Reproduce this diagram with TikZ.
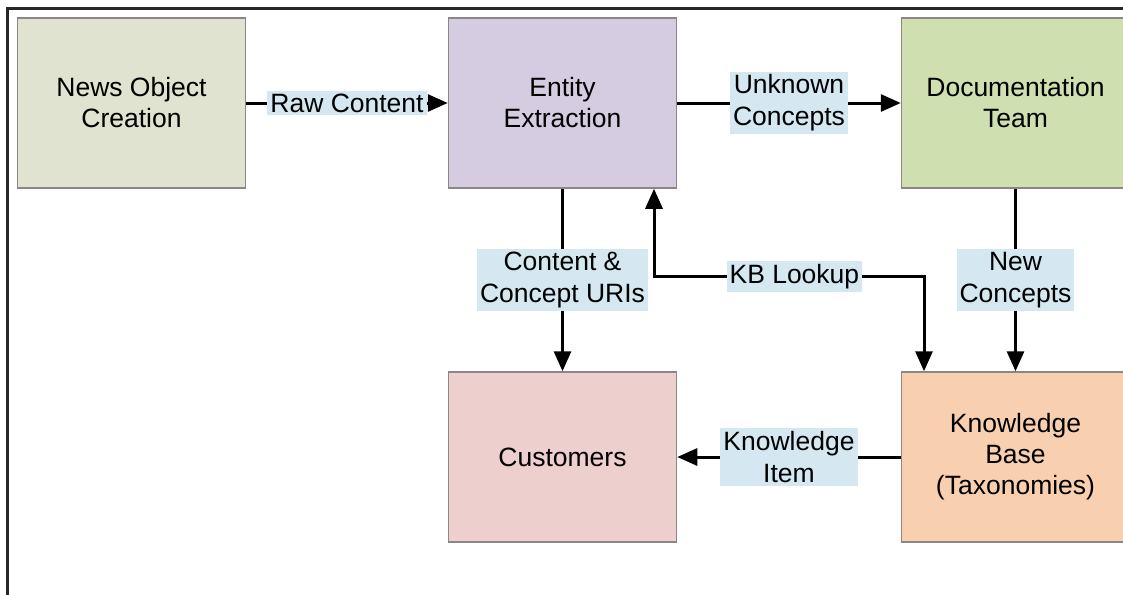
\documentclass[tikz,border=0pt]{standalone}
\usepackage{fontspec}
\setmainfont{Liberation Sans}
\usepackage{tikz}
\usetikzlibrary{arrows.meta}

\definecolor{newsfill}{HTML}{DFE3CF}
\definecolor{entityfill}{HTML}{D6CCE1}
\definecolor{docufill}{HTML}{CFDFAF}
\definecolor{custfill}{HTML}{EDCFCD}
\definecolor{kbfill}{HTML}{F8D0B0}
\definecolor{tagfill}{HTML}{D5E8F1}
\definecolor{boxline}{HTML}{8E8686}

\begin{document}
\begin{tikzpicture}[x=1pt, y=-1pt,
    block/.style={draw=boxline, line width=1.5pt, minimum width=228pt, minimum height=170pt,
                  align=center, font=\fontsize{26.5}{31}\selectfont},
    tag/.style={fill=tagfill, align=center, inner xsep=3pt, inner ysep=3pt,
                font=\fontsize{26.5}{32}\selectfont},
    flow/.style={line width=3pt, -{Triangle[length=20pt,width=17pt]}}]
        \useasboundingbox (0,0) rectangle (1123,594);
        \clip (0,0) rectangle (1123,594);

        % Frame
        \draw[line width=3pt, black!85] (7,600) -- (7,9) -- (1130,9);

        % Boxes
        \node[block, fill=newsfill] (news) at (131.5,103) {News Object\\Creation};
        \node[block, fill=entityfill] (entity) at (562.5,103) {Entity\\Extraction};
        \node[block, fill=docufill] (docu) at (1015.5,103) {Documentation\\Team};
        \node[block, fill=custfill] (cust) at (562.5,457) {Customers};
        \node[block, fill=kbfill] (kb) at (1015.5,457) {Knowledge\\Base\\(Taxonomies)};

        % Connectors
        \draw[flow] (news) -- node[tag] {Raw Content} (entity);
        \draw[flow] (entity) -- node[tag] {Unknown\\Concepts} (docu);
        \draw[flow] (entity) -- node[tag] {Content \&\\Concept URIs} (cust);
        \draw[flow] (docu) -- node[tag] {New\\Concepts} (kb);
        \draw[flow] (kb) -- node[tag] {Knowledge\\Item} (cust);

        % KB lookup goes both ways
        \coordinate (lookA) at ([xshift=91.5pt]entity.south);
        \coordinate (lookB) at ([xshift=-91.5pt]kb.north);
        \draw[line width=3pt, {Triangle[length=20pt,width=17pt]}-{Triangle[length=20pt,width=17pt]}]
            (lookA) -- ++(0,88) coordinate (bendA)
            -- node[tag, pos=0.52] {KB Lookup} (bendA -| lookB) -- (lookB);
\end{tikzpicture}
\end{document}
